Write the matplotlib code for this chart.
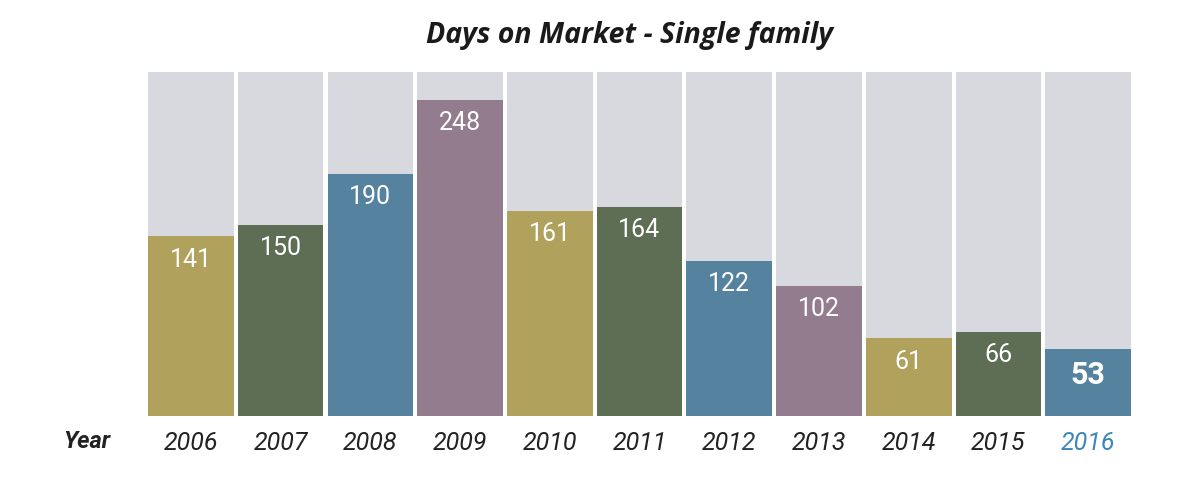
import matplotlib.pyplot as plt
from matplotlib import font_manager

# Data
years = ['2006', '2007', '2008', '2009', '2010', '2011',
         '2012', '2013', '2014', '2015', '2016']
days = [141, 150, 190, 248, 161, 164, 122, 102, 61, 66, 53]
background_max = 270

palette = ['#B0A15C', '#5E6E55', '#55829E', '#937C8E']
bar_colors = [palette[i % 4] for i in range(len(years))]

# Pick a narrow font if one is installed
names = {f.name for f in font_manager.fontManager.ttflist}
narrow = 'Liberation Sans Narrow' if 'Liberation Sans Narrow' in names else 'Roboto'

fig = plt.figure(figsize=(12, 4.81), dpi=100)
ax = fig.add_axes([0.1217, 0.133, 0.8225, 0.715])

x = range(len(years))
ax.bar(x, [background_max] * len(years), width=0.955, color='#D8D9DF')
bars = ax.bar(x, days, width=0.955, color=bar_colors)

# Value labels inside the top of each bar
for i, bar in enumerate(bars):
    last = i == len(bars) - 1
    ax.text(bar.get_x() + bar.get_width() / 2, bar.get_height() - 8,
            str(days[i]), ha='center', va='top', color='white',
            fontsize=22 if last else 18, fontweight='bold' if last else 'normal',
            family=narrow)

ax.set_xlim(-0.5, len(years) - 0.5)
ax.set_ylim(0, background_max)
ax.set_xticks(list(x))
ax.set_xticklabels(years, fontsize=18, style='italic', family=narrow,
                   color='#222222')
ax.tick_params(axis='x', length=0, pad=10)
ax.get_xticklabels()[-1].set_color('#3E86B5')
ax.set_yticks([])
for s in ax.spines.values():
    s.set_visible(False)

fig.text(0.072, 0.083, 'Year', ha='center', va='center', fontsize=17,
         style='italic', fontweight='bold', family=narrow, color='#222222')
fig.text(0.525, 0.927, 'Days on Market - Single family', ha='center', va='center',
         fontsize=20.5, style='italic', fontweight='bold', family='Open Sans',
         color='#1a1a1a')

fig.savefig('out.png', dpi=100)
